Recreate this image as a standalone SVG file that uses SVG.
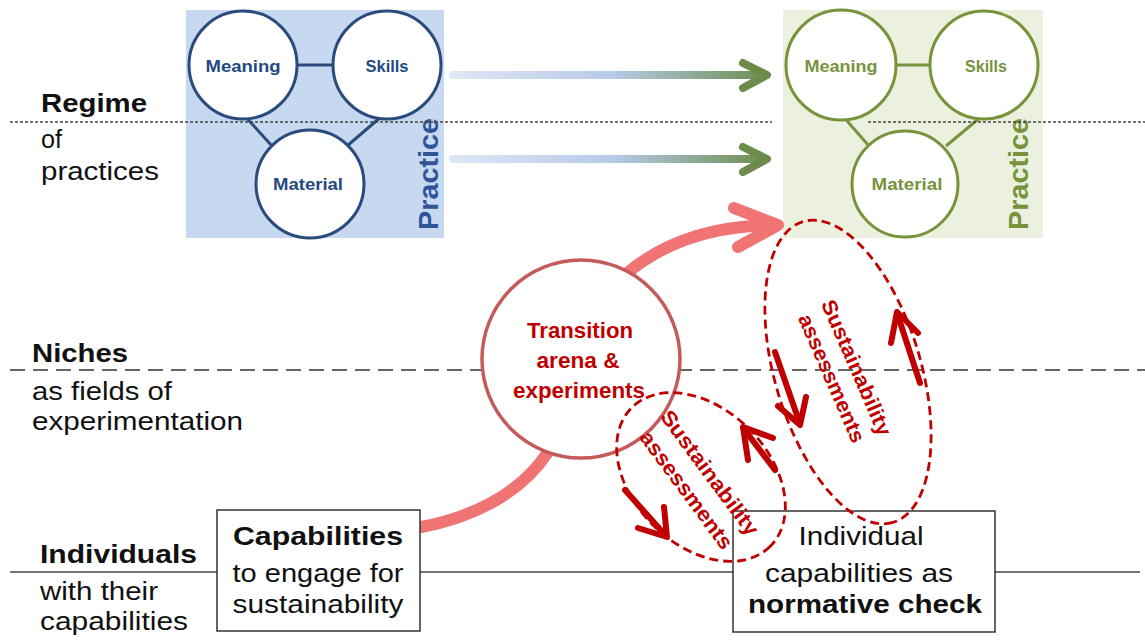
<svg xmlns="http://www.w3.org/2000/svg" width="1145" height="641" viewBox="0 0 1145 641">
<defs>
<linearGradient id="gr" gradientUnits="userSpaceOnUse" x1="453" y1="0" x2="770" y2="0">
<stop offset="0" stop-color="#dde7f5"/>
<stop offset="0.5" stop-color="#b8cae8"/>
<stop offset="1" stop-color="#6c8c4c"/>
</linearGradient>
<style>
text{font-family:"Liberation Sans",Arial,sans-serif}
.lbl{font-size:26px;fill:#111}
.b{font-weight:bold}
.bc{fill:#fff;stroke:#2a4b7c;stroke-width:3}
.bt{font-size:16px;font-weight:bold;fill:#23497e;text-anchor:middle}
.gc{fill:#fff;stroke:#77933c;stroke-width:3}
.gt{font-size:16px;font-weight:bold;fill:#77933c;text-anchor:middle}
.bl{stroke:#2a4b7c;stroke-width:3}
.gl{stroke:#77933c;stroke-width:3}
.box{fill:#fff;stroke:#333;stroke-width:1.5}
.bx{font-size:25px;fill:#111;text-anchor:middle}
.red{fill:#c00000;font-weight:bold;text-anchor:middle}
.dash{fill:none;stroke:#c00000;stroke-width:2.8;stroke-dasharray:9 5}
.rarr{fill:none;stroke:#c00000;stroke-width:6;stroke-linecap:round;stroke-linejoin:round}
.pink{fill:none;stroke:#f07474;stroke-width:12;stroke-linecap:round;stroke-linejoin:round}
.ga{fill:none;stroke:url(#gr);stroke-width:8;stroke-linecap:round}
.gah{fill:none;stroke:#6c8c4c;stroke-width:8;stroke-linecap:round;stroke-linejoin:round}
</style>
</defs>
<rect width="1145" height="641" fill="#fff"/>

<g id="practice-blue">
<rect x="186" y="10" width="258" height="228" fill="#c6d9f1"/>
<line class="bl" x1="298" y1="65" x2="332" y2="65"/>
<line class="bl" x1="243" y1="114" x2="272" y2="146"/>
<line class="bl" x1="382" y1="116" x2="347" y2="146"/>
<circle class="bc" cx="243" cy="65" r="54"/>
<circle class="bc" cx="387" cy="65" r="54"/>
<circle class="bc" cx="310" cy="184" r="54"/>
<text class="bt" x="243" y="72" textLength="75" lengthAdjust="spacingAndGlyphs">Meaning</text>
<text class="bt" x="387" y="72" textLength="43" lengthAdjust="spacingAndGlyphs">Skills</text>
<text class="bt" x="308" y="190" textLength="70" lengthAdjust="spacingAndGlyphs">Material</text>
<text transform="translate(438,174) rotate(-90)" text-anchor="middle" font-size="28" font-weight="bold" fill="#2f5597" textLength="112" lengthAdjust="spacingAndGlyphs">Practice</text>
</g>

<g id="practice-green">
<rect x="783" y="10" width="260" height="228" fill="#ebf1de"/>
<line class="gl" x1="897" y1="65" x2="930" y2="65"/>
<line class="gl" x1="841" y1="114" x2="869" y2="146"/>
<line class="gl" x1="982" y1="116" x2="946" y2="146"/>
<circle class="gc" cx="841" cy="65" r="55"/>
<circle class="gc" cx="984" cy="65" r="54"/>
<circle class="gc" cx="905" cy="184" r="53"/>
<text class="gt" x="841" y="72" textLength="73" lengthAdjust="spacingAndGlyphs">Meaning</text>
<text class="gt" x="986" y="72" textLength="42" lengthAdjust="spacingAndGlyphs">Skills</text>
<text class="gt" x="907" y="190" textLength="71" lengthAdjust="spacingAndGlyphs">Material</text>
<text transform="translate(1028,174) rotate(-90)" text-anchor="middle" font-size="28" font-weight="bold" fill="#77933c" textLength="112" lengthAdjust="spacingAndGlyphs">Practice</text>
</g>

<g id="levels">
<line x1="10" y1="122" x2="772" y2="122" stroke="#444" stroke-width="1.5" stroke-dasharray="3 2"/>
<line x1="868" y1="122" x2="1145" y2="122" stroke="#444" stroke-width="1.5" stroke-dasharray="3 2"/>
<line x1="10" y1="370" x2="1145" y2="370" stroke="#666" stroke-width="2" stroke-dasharray="15 8"/>
<line x1="10" y1="572" x2="1140" y2="572" stroke="#444" stroke-width="1.5"/>
</g>

<g id="labels">
<text class="lbl b" x="41" y="112" textLength="106" lengthAdjust="spacingAndGlyphs">Regime</text>
<text class="lbl" x="41" y="148" textLength="21" lengthAdjust="spacingAndGlyphs">of</text>
<text class="lbl" x="41" y="180" textLength="118" lengthAdjust="spacingAndGlyphs">practices</text>
<text class="lbl b" x="32" y="362" textLength="96" lengthAdjust="spacingAndGlyphs">Niches</text>
<text class="lbl" x="32" y="400" textLength="140" lengthAdjust="spacingAndGlyphs">as fields of</text>
<text class="lbl" x="32" y="430" textLength="211" lengthAdjust="spacingAndGlyphs">experimentation</text>
<text class="lbl b" x="40" y="563" textLength="157" lengthAdjust="spacingAndGlyphs">Individuals</text>
<text class="lbl" x="40" y="600" textLength="118" lengthAdjust="spacingAndGlyphs">with their</text>
<text class="lbl" x="40" y="630" textLength="148" lengthAdjust="spacingAndGlyphs">capabilities</text>
</g>

<g id="connectors">
<line class="ga" x1="453" y1="75" x2="762" y2="75"/>
<polyline class="gah" points="743,63 767,75 743,88"/>
<line class="ga" x1="453" y1="159" x2="762" y2="159"/>
<polyline class="gah" points="743,147 767,159 743,172"/>
<path class="pink" d="M421,527 C470,518 520,495 548,452"/>
<path class="pink" d="M625,275 C665,240 715,226 772,225"/>
<polyline class="pink" points="734,208 778,225 738,247"/>
</g>

<g id="capabilities-box">
<rect class="box" x="217" y="510" width="203" height="121"/>
<text class="bx b" x="318" y="545" textLength="170" lengthAdjust="spacingAndGlyphs">Capabilities</text>
<text class="bx" x="318" y="582" textLength="171" lengthAdjust="spacingAndGlyphs">to engage for</text>
<text class="bx" x="318" y="613" textLength="171" lengthAdjust="spacingAndGlyphs">sustainability</text>
</g>

<g id="normative-box">
<rect class="box" x="733" y="511" width="262" height="121"/>
<text class="bx" x="861" y="545" textLength="125" lengthAdjust="spacingAndGlyphs">Individual</text>
<text class="bx" x="859" y="582" textLength="188" lengthAdjust="spacingAndGlyphs">capabilities as</text>
<text class="bx b" x="865" y="613" textLength="234" lengthAdjust="spacingAndGlyphs">normative check</text>
</g>

<g id="transition">
<circle cx="581" cy="359" r="99" fill="#fff" stroke="#c55a5a" stroke-width="3.5"/>
<text class="red" x="580" y="338" font-size="22" textLength="106" lengthAdjust="spacingAndGlyphs">Transition</text>
<text class="red" x="578" y="368" font-size="22" textLength="83" lengthAdjust="spacingAndGlyphs">arena &amp;</text>
<text class="red" x="579" y="398" font-size="22" textLength="132" lengthAdjust="spacingAndGlyphs">experiments</text>
</g>

<g id="assessment-upper">
<ellipse class="dash" cx="848" cy="372" rx="157" ry="73" transform="rotate(73.4 848 372)"/>
<g transform="translate(844,373) rotate(66.5)">
<text class="red" x="0" y="-6.5" font-size="21" textLength="146" lengthAdjust="spacingAndGlyphs">Sustainability</text>
<text class="red" x="0" y="20.5" font-size="21" textLength="138" lengthAdjust="spacingAndGlyphs">assessments</text>
</g>
<line class="rarr" x1="775" y1="352" x2="800" y2="424"/>
<polyline class="rarr" points="778,406 800,425 806,397"/>
<line class="rarr" x1="920" y1="383" x2="897" y2="313"/>
<polyline class="rarr" points="891,343 897,312 918,333"/>
</g>

<g id="assessment-lower">
<ellipse class="dash" cx="701" cy="477" rx="98" ry="68" transform="rotate(45 701 477)"/>
<g transform="translate(698,481.5) rotate(53.5)">
<text class="red" x="0" y="-7.5" font-size="21" textLength="150" lengthAdjust="spacingAndGlyphs">Sustainability</text>
<text class="red" x="0" y="21.5" font-size="21" textLength="141" lengthAdjust="spacingAndGlyphs">assessments</text>
</g>
<line class="rarr" x1="625" y1="490" x2="666" y2="536"/>
<polyline class="rarr" points="638,528 667,537 664,507"/>
<line class="rarr" x1="775" y1="470" x2="744" y2="429"/>
<polyline class="rarr" points="748,460 743,427 773,438"/>
</g>
</svg>
